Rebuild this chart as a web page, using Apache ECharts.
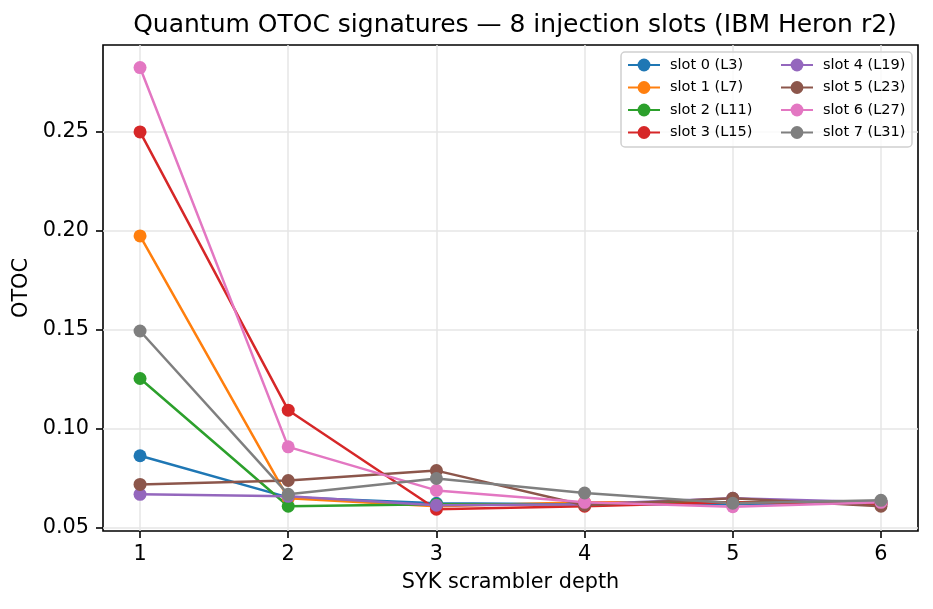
<!DOCTYPE html>
<html><head><meta charset="utf-8">
<script src="https://cdn.jsdelivr.net/npm/echarts@6/dist/echarts.min.js"></script>
<style>html,body{margin:0;padding:0;background:#fff}#c{width:933px;height:609px}</style>
</head><body><div id="c"></div>
<script>
const depths = [1, 2, 3, 4, 5, 6];
const slotNames = ['slot 0 (L3)', 'slot 1 (L7)', 'slot 2 (L11)', 'slot 3 (L15)', 'slot 4 (L19)', 'slot 5 (L23)', 'slot 6 (L27)', 'slot 7 (L31)'];
const slot0 = [0.0865, 0.0655, 0.0625, 0.0620, 0.0620, 0.0630];
const slot1 = [0.1975, 0.0650, 0.0610, 0.0630, 0.0630, 0.0630];
const slot2 = [0.1255, 0.0610, 0.0620, 0.0620, 0.0630, 0.0630];
const slot3 = [0.2500, 0.1095, 0.0595, 0.0610, 0.0630, 0.0620];
const slot4 = [0.0670, 0.0660, 0.0615, 0.0620, 0.0650, 0.0630];
const slot5 = [0.0720, 0.0740, 0.0790, 0.0615, 0.0650, 0.0610];
const slot6 = [0.2825, 0.0910, 0.0690, 0.0630, 0.0608, 0.0630];
const slot7 = [0.1495, 0.0670, 0.0750, 0.0677, 0.0625, 0.0640];
const slotValues = [slot0, slot1, slot2, slot3, slot4, slot5, slot6, slot7];
const colors = ['#1f77b4', '#ff7f0e', '#2ca02c', '#d62728', '#9467bd', '#8c564b', '#e377c2', '#7f7f7f'];
const yTicks = [0.05, 0.10, 0.15, 0.20, 0.25];
const xTicks = [1, 2, 3, 4, 5, 6];

const chart = echarts.init(document.getElementById('c'), null, {renderer: 'canvas'});
const font = 'DejaVu Sans';
const legendCommon = {
  orient: 'vertical', top: 57.5,
  itemGap: 7.5, itemWidth: 32, itemHeight: 16,
  padding: 0,
  textStyle: {fontFamily: font, fontSize: 14.5, color: '#000', padding: [0, 0, 0, 5]}
};
chart.setOption({
  animation: false,
  backgroundColor: '#fff',
  title: {
    text: 'Quantum OTOC signatures — 8 injection slots (IBM Heron r2)',
    left: 510, top: 8, textAlign: 'center',
    textStyle: {fontFamily: font, fontSize: 25, fontWeight: 'normal', color: '#000'}
  },
  grid: {left: 103, right: 15, top: 45, bottom: 78, show: true, borderColor: '#000', borderWidth: 1.6, backgroundColor: 'transparent'},
  graphic: [{
    type: 'rect', z: 3,
    shape: {x: 621, y: 52, width: 291, height: 95, r: 4},
    style: {fill: 'rgba(255,255,255,0.8)', stroke: '#d0d0d0', lineWidth: 1.5}
  }],
  legend: [
    Object.assign({left: 627, data: slotNames.slice(0, 4)}, legendCommon),
    Object.assign({left: 780, data: slotNames.slice(4)}, legendCommon)
  ],
  xAxis: {
    type: 'value', min: 0.75, max: 6.25,
    name: 'SYK scrambler depth', nameLocation: 'middle', nameGap: 41,
    nameTextStyle: {fontFamily: font, fontSize: 20.8, color: '#000'},
    axisLine: {show: false},
    axisTick: {show: true, customValues: xTicks, length: 7, lineStyle: {color: '#000', width: 1.6}},
    axisLabel: {customValues: xTicks, fontFamily: font, fontSize: 20.8, color: '#000', margin: 13},
    splitLine: {show: true, lineStyle: {color: '#e6e6e6', width: 1.5}}
  },
  yAxis: {
    type: 'value', min: 0.0485, max: 0.2939,
    name: 'OTOC', nameLocation: 'middle', nameGap: 70, nameRotate: 90,
    nameTextStyle: {fontFamily: font, fontSize: 20.8, color: '#000'},
    axisLine: {show: false},
    axisTick: {show: true, customValues: yTicks, length: 7, lineStyle: {color: '#000', width: 1.6}},
    axisLabel: {customValues: yTicks, fontFamily: font, fontSize: 20.8, color: '#000', margin: 14,
      formatter: v => v.toFixed(2)},
    splitLine: {show: true, lineStyle: {color: '#e6e6e6', width: 1.5}}
  },
  series: slotValues.map((vals, i) => ({
    name: slotNames[i], type: 'line',
    data: depths.map((d, j) => [d, vals[j]]),
    symbol: 'circle', symbolSize: 13, showSymbol: true,
    lineStyle: {width: 2.5, color: colors[i]},
    itemStyle: {color: colors[i]},
    z: 2
  }))
});
</script></body></html>
